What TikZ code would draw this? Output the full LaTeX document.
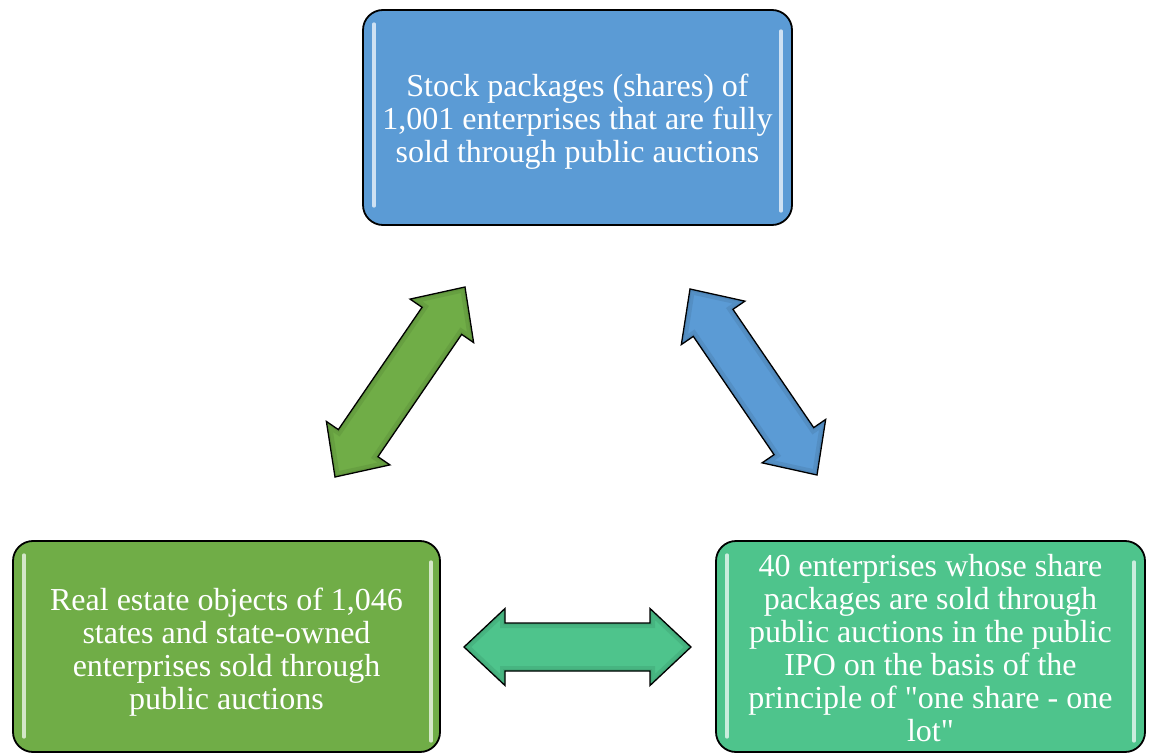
\documentclass[tikz,border=0pt]{standalone}
\usepackage{fontspec}
\setmainfont{Liberation Serif}
\usetikzlibrary{calc}
\definecolor{boxblue}{HTML}{5B9BD5}
\definecolor{boxgreen}{HTML}{70AD47}
\definecolor{boxteal}{HTML}{4EC48C}
\newcommand{\arrpath}[2]{(#1)
 -- ($(#1)!41pt!(#2)!38.5pt!90:(#2)$)
 -- ($(#1)!41pt!(#2)!24pt!90:(#2)$)
 -- ($(#2)!41pt!(#1)!24pt!-90:(#1)$)
 -- ($(#2)!41pt!(#1)!38.5pt!-90:(#1)$)
 -- (#2)
 -- ($(#2)!41pt!(#1)!38.5pt!90:(#1)$)
 -- ($(#2)!41pt!(#1)!24pt!90:(#1)$)
 -- ($(#1)!41pt!(#2)!24pt!-90:(#2)$)
 -- ($(#1)!41pt!(#2)!38.5pt!-90:(#2)$)
 -- cycle}
\newcommand{\dblarrow}[3]{%
 \fill[#3] \arrpath{#1}{#2};
 \begin{scope}
  \clip \arrpath{#1}{#2};
  \draw[line width=10pt, #3!75!black, opacity=0.3] \arrpath{#1}{#2};
  \draw[line width=4pt, #3!75!black, opacity=0.3] \arrpath{#1}{#2};
 \end{scope}
 \draw[arrline] \arrpath{#1}{#2};
}
\newcommand{\boxtext}[2]{\raisebox{0pt}[\dimexpr\height+#1\relax][\depth]{\begin{tabular}{@{}c@{}}#2\end{tabular}}}
\begin{document}
\begin{tikzpicture}[x=1pt,y=-1pt,
  card/.style={draw=black, line width=1.8pt, rounded corners=20pt, text=white,
    font=\fontsize{32}{33}\selectfont, inner sep=0pt},
  gloss/.style={line width=3.5pt, line cap=round},
  arrline/.style={draw=black, line width=1.3pt, line join=miter}]
\useasboundingbox (0,0) rectangle (1149,754);

\node[card, fill=boxblue, minimum width=429pt, minimum height=215pt] (top) at (577.5,117.5)
  {\boxtext{10pt}{Stock packages (shares) of\\1,001 enterprises that are fully\\sold through public auctions}};
\node[card, fill=boxgreen, minimum width=427pt, minimum height=211pt] (left) at (226.5,646.5)
  {\boxtext{14pt}{Real estate objects of 1,046\\states and state-owned\\enterprises sold through\\public auctions}};
\node[card, fill=boxteal, minimum width=429pt, minimum height=211pt] (right) at (930.5,646.5)
  {\boxtext{12pt}{40 enterprises whose share\\packages are sold through\\public auctions in the public\\IPO on the basis of the\\principle of \textquotedbl one share - one\\lot\textquotedbl}};

% gloss highlights
\draw[gloss, white!70!boxblue] ($(top.north west)+(12,15)$) -- ($(top.south west)+(12,-20)$);
\draw[gloss, white!70!boxblue] ($(top.north east)+(-12,22)$) -- ($(top.south east)+(-12,-15)$);
\draw[gloss, white!70!boxgreen] ($(left.north west)+(12,15)$) -- ($(left.south west)+(12,-16)$);
\draw[gloss, white!70!boxgreen] ($(left.north east)+(-10,22)$) -- ($(left.south east)+(-10,-12)$);
\draw[gloss, white!70!boxteal] ($(right.north west)+(12,15)$) -- ($(right.south west)+(12,-16)$);
\draw[gloss, white!70!boxteal] ($(right.north east)+(-12,22)$) -- ($(right.south east)+(-12,-12)$);

% arrow end points
\coordinate (g1) at (465,287);
\coordinate (g2) at (335,477);
\coordinate (b1) at (690,289);
\coordinate (b2) at (817,475);
\coordinate (t1) at (464,647);
\coordinate (t2) at (691,647);

\dblarrow{g1}{g2}{boxgreen}
\dblarrow{b1}{b2}{boxblue}
\dblarrow{t1}{t2}{boxteal}
\end{tikzpicture}
\end{document}
